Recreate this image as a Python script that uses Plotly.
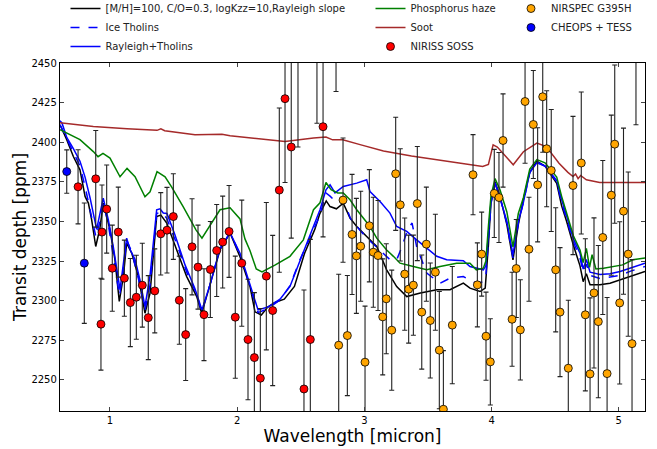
import plotly.graph_objects as go

# ---------------- model spectra ----------------
bk_wl = [0.607,0.660,0.712,0.764,0.804,0.830,0.856,0.888,0.921,0.947,
         1.000,1.039,1.073,1.105,1.131,1.171,1.223,1.275,1.315,1.367,
         1.400,1.446,1.524,1.603,1.682,1.721,1.786,1.865,1.944,2.022,
         2.101,2.140,2.190,2.240,2.300,2.370,2.450,2.530,2.610,2.650,
         2.700,2.730,2.780,2.834,2.887,2.940,3.018,3.097,3.175,3.254,
         3.333,3.440,3.569,3.673,3.778,3.830,3.909,3.950,3.975,3.995,
         4.027,4.066,4.120,4.168,4.210,4.250,4.300,4.356,4.420,4.512,
         4.550,4.590,4.643,4.695,4.720,4.745,4.774,4.852,4.931,5.010,
         5.088,5.206]
bk_ppm = [2411.0,2401.6,2391.0,2382.6,2365.8,2361.6,2351.0,2334.2,2345.8,2361.6,
          2344.7,2325.8,2299.5,2315.2,2336.3,2330.0,2315.2,2292.1,2304.8,2353.1,
          2354.0,2349.0,2332.1,2315.2,2302.6,2292.1,2310.0,2332.1,2342.8,2327.7,
          2308.8,2293.0,2291.0,2296.0,2299.0,2301.0,2309.0,2330.0,2345.0,2355.0,
          2363.0,2359.4,2358.0,2361.6,2352.1,2346.8,2340.5,2334.2,2319.5,2308.9,
          2302.6,2304.8,2306.9,2306.9,2311.1,2307.9,2305.8,2308.0,2335.0,2362.0,
          2375.0,2366.0,2348.0,2325.8,2348.0,2364.0,2381.0,2388.0,2385.0,2374.0,
          2360.0,2350.0,2335.0,2322.0,2312.0,2317.0,2310.0,2310.0,2311.0,2313.2,
          2315.0,2318.4]

ds_wl = [0.607,0.660,0.712,0.764,0.804,0.843,0.869,0.890,0.921,0.947,
         0.987,1.039,1.075,1.105,1.131,1.171,1.223,1.275,1.315,1.367,
         1.400,1.446,1.524,1.603,1.682,1.721,1.786,1.865,1.944,2.022,
         2.101,2.164,2.242,2.337,2.415,2.494,2.573,2.651,2.698,2.730,
         2.780,2.834,2.890,2.970,3.040,3.120,3.200,3.254,3.300,3.340,
         3.375,3.411,3.490,3.595,3.673,3.778,3.880,3.935,3.955,3.975,
         3.995,4.027,4.066,4.120,4.168,4.210,4.250,4.300,4.356,4.420,
         4.512,4.550,4.590,4.643,4.695,4.720,4.745,4.774,4.852,4.931,
         5.010,5.088,5.206]
ds_ppm = [2411.0,2402.0,2393.0,2385.0,2372.0,2358.0,2348.0,2340.0,2350.0,2362.0,
          2348.0,2322.0,2303.0,2320.0,2338.0,2331.0,2314.0,2294.0,2310.0,2355.0,
          2356.0,2352.0,2336.0,2318.0,2304.0,2293.0,2310.0,2332.5,2343.0,2329.0,
          2309.5,2292.5,2295.0,2300.5,2309.5,2326.0,2340.0,2354.0,2368.0,2366.0,
          2362.0,2364.0,2352.0,2344.0,2338.0,2332.0,2326.0,2325.8,2335.0,2345.0,
          2349.0,2334.0,2317.4,2311.0,2314.2,2315.2,2311.0,2312.0,2316.0,2338.0,
          2361.0,2374.5,2365.0,2349.0,2327.0,2349.0,2362.0,2381.0,2387.5,2385.0,
          2375.0,2362.0,2351.0,2337.0,2327.0,2318.0,2323.0,2316.0,2314.0,2315.0,
          2316.0,2318.5,2321.6]

bl_wl = [0.607,0.623,0.660,0.712,0.764,0.804,0.843,0.869,0.895,0.921,
         0.947,0.987,1.026,1.079,1.105,1.131,1.160,1.197,1.236,1.275,
         1.315,1.350,1.367,1.393,1.419,1.448,1.511,1.590,1.668,1.723,
         1.786,1.865,1.944,2.022,2.101,2.164,2.242,2.337,2.415,2.494,
         2.573,2.651,2.698,2.730,2.769,2.834,2.887,2.940,3.018,3.044,
         3.123,3.201,3.254,3.333,3.411,3.490,3.569,3.647,3.778,3.830,
         3.935,3.955,3.975,3.995,4.027,4.066,4.120,4.168,4.210,4.250,
         4.300,4.356,4.420,4.512,4.550,4.590,4.643,4.695,4.720,4.745,
         4.774,4.852,4.931,5.010,5.088,5.206]
bl_ppm = [2413.6,2412.0,2403.0,2396.0,2388.0,2378.0,2365.0,2355.0,2345.0,2355.0,
          2364.7,2351.0,2334.0,2307.0,2325.0,2339.5,2332.0,2326.0,2313.0,2296.3,
          2316.0,2345.0,2357.4,2358.0,2355.3,2355.0,2341.5,2322.6,2307.5,2294.2,
          2310.0,2333.0,2342.8,2330.0,2310.0,2294.2,2296.0,2301.0,2309.0,2325.8,
          2341.5,2357.4,2370.0,2373.1,2368.0,2372.1,2373.1,2374.2,2376.3,2368.9,
          2362.6,2355.3,2346.8,2343.7,2338.4,2333.2,2328.0,2325.8,2325.2,2321.6,
          2319.5,2322.0,2340.0,2362.0,2374.0,2365.0,2350.0,2329.0,2350.0,2362.0,
          2381.0,2387.0,2385.0,2376.0,2364.0,2353.0,2339.0,2330.0,2320.0,2326.0,
          2318.0,2316.5,2317.0,2318.4,2320.5,2323.7]

gr_wl = [0.607,0.686,0.764,0.869,0.906,0.945,1.000,1.079,1.134,1.197,
         1.275,1.315,1.370,1.433,1.484,1.575,1.676,1.723,1.786,1.865,
         1.944,2.022,2.061,2.101,2.150,2.195,2.300,2.415,2.520,2.600,
         2.651,2.698,2.738,2.790,2.834,2.887,2.940,2.990,3.044,3.097,
         3.175,3.228,3.280,3.385,3.490,3.595,3.725,3.830,3.880,3.935,
         3.955,3.975,3.995,4.027,4.066,4.120,4.168,4.210,4.250,4.300,
         4.356,4.420,4.512,4.550,4.590,4.643,4.695,4.720,4.745,4.770,
         4.790,4.820,4.880,4.950,5.030,5.110,5.206]
gr_ppm = [2407.9,2404.7,2401.6,2394.1,2390.9,2393.0,2390.0,2378.2,2383.5,2378.2,
          2365.6,2368.7,2381.4,2378.2,2371.9,2359.3,2344.7,2339.5,2347.2,2357.4,
          2358.6,2351.6,2339.0,2331.5,2320.0,2318.2,2322.6,2328.0,2338.4,2357.4,
          2361.8,2374.6,2370.0,2368.0,2368.0,2363.7,2357.4,2352.0,2346.8,2339.5,
          2332.0,2328.0,2323.7,2321.6,2319.5,2321.6,2323.7,2323.7,2319.5,2320.5,
          2325.0,2347.0,2366.0,2377.0,2370.0,2356.0,2334.0,2355.0,2365.0,2383.0,
          2389.0,2387.0,2378.0,2366.0,2355.0,2341.0,2332.0,2324.0,2333.0,2321.0,
          2329.0,2320.0,2320.5,2321.6,2322.6,2325.8,2326.9]

st_wl = [0.607,0.869,1.134,1.370,1.400,1.430,1.668,1.880,1.944,2.220,
         2.376,2.600,2.698,2.750,2.830,2.966,3.150,3.370,3.516,3.673,
         3.930,3.975,4.012,4.045,4.090,4.170,4.250,4.356,4.430,4.530,
         4.600,4.640,4.660,4.680,4.700,4.745,4.850,5.206]
st_ppm = [2412.3,2410.0,2408.5,2407.5,2408.5,2407.3,2404.7,2405.0,2404.1,2401.6,
          2400.5,2402.6,2403.3,2401.5,2401.6,2398.5,2394.5,2391.3,2389.6,2388.0,
          2384.7,2386.0,2398.4,2397.0,2393.0,2385.8,2394.0,2399.5,2397.3,2386.8,
          2381.0,2378.4,2380.0,2377.0,2379.0,2376.3,2374.6,2374.6]

# ---------------- observations ----------------
ns_wl = [0.749,0.888,0.929,0.937,0.974,1.018,1.065,1.113,1.160,1.207,1.254,1.301,1.352,1.399,1.448,1.498,1.545,1.595,1.645,1.692,
         1.739,1.789,1.839,1.886,1.936,1.985,2.036,2.085,2.135,2.182,2.229,2.279,2.331,2.376,2.425,2.478,2.525,2.575,2.627,2.675,2.777]
ns_ppm = [2371.9,2376.9,2285.2,2343.3,2357.8,2320.5,2343.3,2314.2,2298.8,2302.2,2309.8,2289.3,2306.2,2342.2,2344.5,2353.1,2300.3,2278.6,2334.0,2321.2,
          2291.2,2319.7,2331.7,2337.0,2343.7,2289.6,2323.7,2275.5,2264.1,2251.1,2315.5,2293.8,2369.8,2427.5,2397.0,2457.0,2244.3,2275.5,2472.0,2409.8,2502.0]
ns_err = [23.4,30.5,29.0,29.7,27.8,27.2,28.4,24.0,27.8,26.5,26.5,26.5,26.5,26.0,27.0,27.0,27.8,29.0,30.3,26.5,
          29.0,30.3,29.0,29.0,29.0,38.5,39.8,38.0,41.0,44.0,46.5,47.4,51.8,52.9,57.5,60.0,62.5,63.2,60.0,69.5,70.0]

nr_wl = [2.798,2.832,2.866,2.903,2.937,2.971,3.005,3.039,3.070,3.107,3.144,3.172,3.215,3.246,3.282,3.317,3.348,3.385,3.416,3.451,
         3.487,3.518,3.558,3.589,3.621,3.691,3.854,3.888,3.922,3.956,3.990,4.021,4.058,4.090,4.161,4.194,4.226,4.263,4.294,4.328,
         4.362,4.402,4.433,4.469,4.504,4.538,4.603,4.640,4.705,4.737,4.774,4.805,4.839,4.874,4.908,4.941,4.968,5.007,5.037,5.074,
         5.104,5.135]
nr_ppm = [2271.9,2363.5,2278.0,2341.8,2328.3,2334.4,2261.2,2347.3,2330.6,2328.5,2289.8,2301.2,2281.4,2380.1,2360.5,2316.8,2307.3,2309.8,2361.3,2292.8,
          2335.7,2287.5,2318.0,2268.8,2231.5,2284.6,2379.5,2310.0,2329.4,2277.6,2261.4,2367.7,2365.1,2401.1,2288.3,2320.3,2281.6,2425.7,2332.5,2411.2,
          2373.1,2428.7,2395.9,2382.2,2319.5,2292.8,2257.4,2372.7,2386.9,2291.1,2253.8,2304.9,2286.8,2339.9,2254.0,2366.6,2398.8,2298.6,2356.5,2329.4,
          2272.9,2465.0]
nr_err = [44.8,39.2,37.9,37.9,36.3,34.7,35.4,35.4,34.7,34.7,36.6,34.7,37.9,35.7,35.4,35.4,34.1,31.6,36.0,36.0,
          36.0,36.3,36.6,37.0,37.0,37.0,25.3,26.5,26.5,27.8,27.2,27.8,28.4,29.4,29.7,30.9,31.6,39.0,32.8,34.1,
          36.0,35.0,36.6,38.5,39.2,40.7,42.9,43.6,44.8,48.0,48.0,47.4,48.0,48.6,48.0,50.5,49.9,51.2,52.4,51.8,
          53.0,54.0]

ct_wl = [0.660, 0.798]
ct_ppm = [2381.5, 2323.7]
ct_err = [13.7, 38.0]

fig = go.Figure()

def line(x, y, name, color, width=1.5, dash=None, legend="legend"):
    fig.add_trace(go.Scatter(x=x, y=y, mode="lines", name=name, legend=legend,
                             line=dict(color=color, width=width, dash=dash)))

line(bk_wl, bk_ppm, "[M/H]=100, C/O=0.3, logKzz=10,Rayleigh slope", "black")
line(ds_wl, ds_ppm, "Ice Tholins", "blue", dash="dash")
line(bl_wl, bl_ppm, "Rayleigh+Tholins", "blue")
line(gr_wl, gr_ppm, "Phosphorus haze", "green", legend="legend2")
line(st_wl, st_ppm, "Soot", "#a52a2a", legend="legend2")

def pts(x, y, e, name, color, legend):
    fig.add_trace(go.Scatter(x=x, y=y, mode="markers", name=name, legend=legend,
                             marker=dict(color=color, size=8, line=dict(color="black", width=0.8)),
                             error_y=dict(type="data", array=e, color="#222222", thickness=1.1, width=2.5)))

pts(ns_wl, ns_ppm, ns_err, "NIRISS SOSS", "#ff0000", "legend2")
pts(nr_wl, nr_ppm, nr_err, "NIRSPEC G395H", "#ffa500", "legend3")
pts(ct_wl, ct_ppm, ct_err, "CHEOPS + TESS", "#0000ff", "legend3")

PW = 585.0
PH = 348.0
leg = dict(xref="paper", yref="paper", y=1 + (63 + 6) / PH, yanchor="top", xanchor="left",
           bgcolor="rgba(0,0,0,0)", font=dict(size=10, color="#222"), tracegroupgap=0)
fig.update_layout(
    width=657, height=449,
    margin=dict(l=60, r=12, t=63, b=38, autoexpand=False),
    plot_bgcolor="white", paper_bgcolor="white",
    font=dict(family="DejaVu Sans", size=10, color="black"),
    legend=dict(leg, x=(65.5 - 60) / PW),
    legend2=dict(leg, x=(370.5 - 60) / PW),
    legend3=dict(leg, x=(511 - 60) / PW),
    xaxis=dict(range=[0.607, 5.206], dtick=1, tick0=1, ticks="inside", ticklen=4,
               showline=True, linecolor="black", linewidth=1.3, mirror="ticks",
               showgrid=False, zeroline=False, automargin=False,
               title=dict(text="Wavelength [micron]", font=dict(size=17), standoff=4)),
    yaxis=dict(range=[2230.4, 2450], dtick=25, tick0=2250, ticks="inside", ticklen=4,
               showline=True, linecolor="black", linewidth=1.3, mirror="ticks",
               showgrid=False, zeroline=False, automargin=False,
               title=dict(text="Transit depth [ppm]", font=dict(size=17), standoff=0)),
)

fig.write_html("out.html", config={"displayModeBar": False},
               post_script="document.body.style.margin='0';")
